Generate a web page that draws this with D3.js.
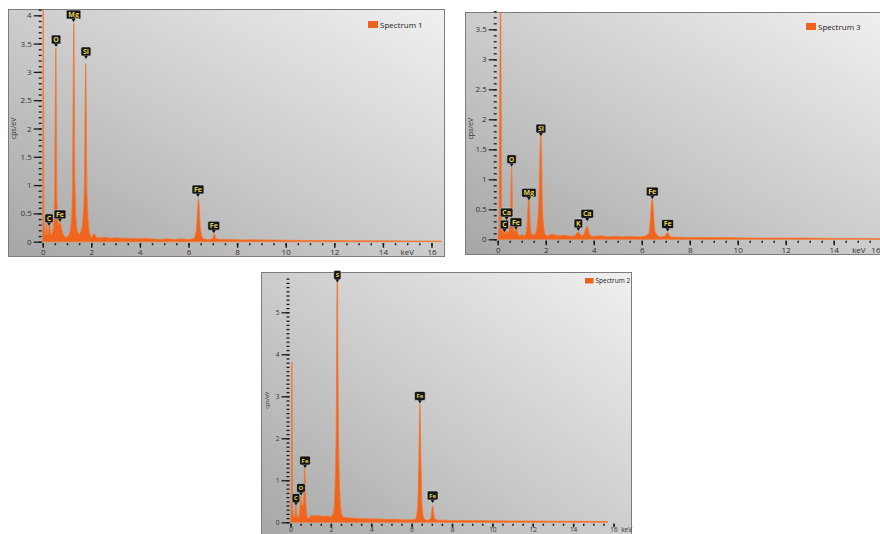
<!DOCTYPE html>
<html>
<head>
<meta charset="utf-8">
<script src="https://cdn.jsdelivr.net/npm/d3@7"></script>
<style>
  body { margin: 0; background: #fff; }
  svg { display: block; font-family: "Open Sans", "DejaVu Sans", sans-serif; }
</style>
</head>
<body>
<svg id="chart" width="880" height="534"></svg>
<script>
// ---- data: [keV, cps/eV] ----
var spectrum1 = [
    [0.00, 0.00], [0.02, 4.30], [0.06, 0.30], [0.10, 0.12], [0.16, 0.32], [0.21, 0.10],
    [0.28, 0.30], [0.34, 0.12], [0.42, 0.20], [0.49, 0.80], [0.54, 3.42], [0.59, 0.70],
    [0.65, 0.30], [0.72, 0.34], [0.78, 0.22], [0.86, 0.12], [0.95, 0.08], [1.05, 0.10],
    [1.15, 0.25], [1.23, 1.00], [1.28, 3.86], [1.33, 1.00], [1.41, 0.22], [1.50, 0.14],
    [1.60, 0.22], [1.71, 0.90], [1.77, 3.15], [1.83, 0.80], [1.92, 0.18], [2.00, 0.08],
    [2.12, 0.14], [2.22, 0.08], [2.40, 0.07], [2.60, 0.08], [2.80, 0.06], [3.00, 0.07],
    [3.30, 0.06], [3.60, 0.06], [3.90, 0.05], [4.20, 0.06], [4.50, 0.05], [4.80, 0.04],
    [5.10, 0.05], [5.40, 0.04], [5.70, 0.05], [6.00, 0.04], [6.20, 0.05], [6.32, 0.20],
    [6.41, 0.76], [6.50, 0.20], [6.62, 0.05], [6.80, 0.04], [6.98, 0.05], [7.06, 0.14],
    [7.14, 0.05], [7.40, 0.04], [7.80, 0.04], [8.20, 0.03], [8.60, 0.035], [9.00, 0.03],
    [9.50, 0.03], [10.00, 0.025], [11.00, 0.02], [12.00, 0.02], [13.00, 0.015],
    [14.00, 0.015], [15.00, 0.012], [16.00, 0.01], [16.40, 0.01], [16.40, 0.00]
];
var spectrum3 = [
    [0.00, 0.00], [0.05, 0.20], [0.12, 4.00], [0.17, 0.25], [0.22, 0.10], [0.28, 0.18],
    [0.33, 0.08], [0.38, 0.14], [0.45, 0.10], [0.53, 0.40], [0.58, 1.20], [0.63, 0.35],
    [0.70, 0.12], [0.76, 0.19], [0.83, 0.10], [0.92, 0.06], [1.02, 0.08], [1.12, 0.06],
    [1.20, 0.15], [1.30, 0.69], [1.38, 0.14], [1.48, 0.07], [1.58, 0.10], [1.70, 0.50],
    [1.80, 1.76], [1.88, 0.40], [1.98, 0.08], [2.10, 0.06], [2.25, 0.09], [2.40, 0.07],
    [2.60, 0.06], [2.80, 0.07], [3.00, 0.05], [3.20, 0.06], [3.36, 0.12], [3.48, 0.06],
    [3.60, 0.09], [3.72, 0.22], [3.84, 0.07], [4.00, 0.05], [4.30, 0.06], [4.60, 0.04],
    [4.90, 0.05], [5.20, 0.04], [5.50, 0.05], [5.80, 0.04], [6.10, 0.05], [6.30, 0.10],
    [6.44, 0.67], [6.56, 0.12], [6.75, 0.04], [6.95, 0.05], [7.08, 0.11], [7.20, 0.04],
    [7.60, 0.035], [8.00, 0.03], [9.00, 0.03], [10.00, 0.025], [11.00, 0.02],
    [12.00, 0.02], [13.00, 0.02], [14.00, 0.015], [15.00, 0.015], [16.00, 0.01],
    [16.50, 0.01], [16.50, 0.00]
];
var spectrum2 = [
    [0.00, 0.00], [0.03, 0.30], [0.07, 3.82], [0.11, 0.30], [0.17, 0.12], [0.22, 0.18],
    [0.27, 0.39], [0.32, 0.15], [0.40, 0.12], [0.47, 0.35], [0.52, 0.62], [0.57, 0.40],
    [0.63, 0.45], [0.71, 1.28], [0.77, 0.40], [0.84, 0.12], [0.92, 0.10], [1.05, 0.17],
    [1.20, 0.15], [1.40, 0.16], [1.60, 0.14], [1.80, 0.15], [2.00, 0.14], [2.12, 0.22],
    [2.20, 0.80], [2.27, 2.50], [2.32, 6.20], [2.37, 2.50], [2.44, 0.80], [2.52, 0.22],
    [2.65, 0.12], [2.85, 0.11], [3.10, 0.10], [3.40, 0.09], [3.70, 0.09], [4.00, 0.08],
    [4.40, 0.08], [4.80, 0.07], [5.20, 0.07], [5.60, 0.06], [6.00, 0.06], [6.20, 0.08],
    [6.30, 0.40], [6.36, 1.50], [6.41, 2.82], [6.46, 1.50], [6.52, 0.40], [6.62, 0.08],
    [6.80, 0.05], [6.95, 0.10], [7.04, 0.40], [7.13, 0.10], [7.30, 0.05], [7.70, 0.05],
    [8.20, 0.04], [9.00, 0.04], [10.00, 0.035], [11.00, 0.03], [12.00, 0.03],
    [13.00, 0.025], [14.00, 0.025], [15.00, 0.02], [15.70, 0.02], [15.70, 0.00]
];

// peak labels: element, keV, cps where the marker points
var labels1 = [
    {el: "C", kev: 0.26, cps: 0.28}, {el: "Fe", kev: 0.71, cps: 0.35},
    {el: "O", kev: 0.55, cps: 3.44}, {el: "Mg", kev: 1.27, cps: 3.88},
    {el: "Si", kev: 1.78, cps: 3.23}, {el: "Fe", kev: 6.39, cps: 0.79},
    {el: "Fe", kev: 7.04, cps: 0.15}
];
var labels3 = [
    {el: "C", kev: 0.28, cps: 0.12}, {el: "Ca", kev: 0.37, cps: 0.32},
    {el: "O", kev: 0.58, cps: 1.21}, {el: "Fe", kev: 0.76, cps: 0.16},
    {el: "Mg", kev: 1.30, cps: 0.65}, {el: "Si", kev: 1.80, cps: 1.72},
    {el: "K", kev: 3.36, cps: 0.14}, {el: "Ca", kev: 3.73, cps: 0.30},
    {el: "Fe", kev: 6.44, cps: 0.67}, {el: "Fe", kev: 7.08, cps: 0.13}
];
var labels2 = [
    {el: "C", kev: 0.27, cps: 0.40}, {el: "O", kev: 0.52, cps: 0.64},
    {el: "Fe", kev: 0.72, cps: 1.29}, {el: "S", kev: 2.32, cps: 5.71},
    {el: "Fe", kev: 6.41, cps: 2.83}, {el: "Fe", kev: 7.04, cps: 0.46}
];

var xTicks = [0, 2, 4, 6, 8, 10, 12, 14, 16];
var yTicks1 = [0, 0.5, 1, 1.5, 2, 2.5, 3, 3.5, 4];
var yTicks3 = [0, 0.5, 1, 1.5, 2, 2.5, 3, 3.5];
var yTicks2 = [0, 1, 2, 3, 4, 5];

// ---- layout ----
var panels = [
    {name: "Spectrum 1", data: spectrum1, labels: labels1, yTicks: yTicks1, yMinorTop: 4.1,
     frame: [8, 9, 436, 247], xRange: [42.7, 431.5], yDomain: [0, 4], yRange: [241.7, 15.3],
     keV: 15.0, legend: [368, 21], font: 8, boxFont: 7, boxH: 9, xTick: 4.5, xPad: 2},
    {name: "Spectrum 3", data: spectrum3, labels: labels3, yTicks: yTicks3, yMinorTop: 3.8,
     frame: [465, 12, 420, 242], xRange: [497.7, 881.7], yDomain: [0, 2], yRange: [239.3, 119.3],
     keV: 15.05, legend: [806, 23], font: 8, boxFont: 7, boxH: 9, xTick: 4.5, xPad: 2},
    {name: "Spectrum 2", data: spectrum2, labels: labels2, yTicks: yTicks2, yMinorTop: 5.85,
     frame: [261, 272, 370, 270], xRange: [290.5, 613.5], yDomain: [0, 5], yRange: [522.3, 312.3],
     keV: 16.65, legend: [585, 278], font: 6.5, boxFont: 6, boxH: 9, xTick: 3.5, xPad: 0.5}
];

var W = 880;
var svg = d3.select("#chart");
var defs = svg.append("defs");

var grad = defs.append("linearGradient")
    .attr("id", "bg")
    .attr("x1", 0).attr("y1", 1).attr("x2", 1).attr("y2", 0);
grad.append("stop").attr("offset", "0%").attr("stop-color", "#a6a6a6");
grad.append("stop").attr("offset", "45%").attr("stop-color", "#c9c9c9");
grad.append("stop").attr("offset", "100%").attr("stop-color", "#f0f0f0");

panels.forEach(function (p, i) {
    var f = p.frame;
    var x = d3.scaleLinear().domain([0, 16]).range(p.xRange);
    var y = d3.scaleLinear().domain(p.yDomain).range(p.yRange);
    var y0 = y(0);

    var g = svg.append("g").attr("class", "panel");

    defs.append("clipPath").attr("id", "clip" + i)
        .append("rect")
        .attr("x", f[0] + 1).attr("y", f[1] + 1)
        .attr("width", f[2] - 2).attr("height", f[3] - 2);

    g.append("rect")
        .attr("x", f[0] + 0.5).attr("y", f[1] + 0.5)
        .attr("width", f[2]).attr("height", f[3])
        .attr("fill", "url(#bg)")
        .attr("stroke", "#7c7c7c")
        .attr("stroke-width", 1);

    // spectrum
    var area = d3.area()
        .curve(d3.curveMonotoneX)
        .x(function (d) { return x(d[0]); })
        .y0(y0)
        .y1(function (d) { return y(d[1]); });

    g.append("path")
        .datum(p.data)
        .attr("clip-path", "url(#clip" + i + ")")
        .attr("d", area)
        .attr("fill", "#f0641e")
        .attr("stroke", "#f27a35")
        .attr("stroke-width", 0.8);

    // y axis: minor then major ticks
    var yMinor = d3.range(0, p.yMinorTop + 1e-6, 0.1);
    g.append("g")
        .attr("transform", "translate(" + (x(0) - 1) + ",0)")
        .call(d3.axisLeft(y).tickValues(yMinor).tickSize(3).tickFormat(""))
        .call(function (a) {
            a.select(".domain").remove();
            a.selectAll("line").attr("stroke", "#1a1a1a").attr("stroke-width", 1.3);
        });
    g.append("g")
        .attr("transform", "translate(" + (x(0) - 1) + ",0)")
        .call(d3.axisLeft(y).tickValues(p.yTicks).tickSize(8).tickPadding(2)
            .tickFormat(function (d) { return String(d); }))
        .call(function (a) {
            a.select(".domain").remove();
            a.selectAll("line").attr("stroke", "#1a1a1a").attr("stroke-width", 1.3);
            a.selectAll("text").attr("fill", "#333").style("font-size", p.font + "px")
                .style("font-family", "'Open Sans', sans-serif");
        });

    // x axis
    var xMinor = d3.range(0, 16.01, 0.5);
    g.append("g")
        .attr("transform", "translate(0," + (y0 + 1.5) + ")")
        .call(d3.axisBottom(x).tickValues(xMinor).tickSize(2).tickFormat(""))
        .call(function (a) {
            a.select(".domain").remove();
            a.selectAll("line").attr("stroke", "#1a1a1a").attr("stroke-width", 1.5);
        });
    g.append("g")
        .attr("transform", "translate(0," + (y0 + 1.5) + ")")
        .call(d3.axisBottom(x).tickValues(xTicks).tickSize(p.xTick).tickPadding(p.xPad)
            .tickFormat(function (d) { return String(d); }))
        .call(function (a) {
            a.select(".domain").remove();
            a.selectAll("line").attr("stroke", "#1a1a1a").attr("stroke-width", 1.5);
            a.selectAll("text").attr("fill", "#333").style("font-size", p.font + "px")
                .style("font-family", "'Open Sans', sans-serif")
                .each(function (d) {
                    // keep the last label inside the window
                    if (x(d) + 4 > W) {
                        d3.select(this).attr("text-anchor", "end").attr("x", W - x(d));
                    }
                });
        });

    // unit label, same line as the tick labels
    g.append("text")
        .attr("x", x(p.keV))
        .attr("y", y0 + 1.5 + p.xTick + p.xPad)
        .attr("dy", "0.71em")
        .attr("text-anchor", "middle")
        .attr("fill", "#333")
        .style("font-size", p.font + "px")
        .text("keV");

    // y label
    g.append("text")
        .attr("transform", "translate(" + (f[0] + 8) + "," + ((f[1] + y0) / 2 + 3) + ") rotate(-90)")
        .attr("text-anchor", "middle")
        .attr("fill", "#333")
        .style("font-size", (p.font - 1) + "px")
        .text("cps/eV");

    // peak labels
    var lab = g.selectAll(".lab")
        .data(p.labels)
        .enter().append("g")
        .attr("class", "lab")
        .attr("transform", function (d) {
            return "translate(" + x(d.kev) + "," + y(d.cps) + ")";
        });
    lab.each(function (d) {
        var n = d3.select(this);
        var t = n.append("text")
            .attr("x", 0)
            .attr("y", -3 - p.boxH / 2)
            .attr("dy", "0.35em")
            .attr("text-anchor", "middle")
            .attr("fill", "#e3d35a")
            .style("font-size", p.boxFont + "px")
            .style("font-weight", "bold")
            .text(d.el);
        var w = t.node().getComputedTextLength() + 4;
        n.insert("rect", "text")
            .attr("x", -w / 2).attr("y", -3 - p.boxH)
            .attr("width", w).attr("height", p.boxH)
            .attr("rx", 1.5)
            .attr("fill", "#161616")
            .attr("stroke", "#d8d8d8")
            .attr("stroke-width", 0.6);
        n.insert("path", "text")
            .attr("d", "M-2," + (-3.2) + "L2," + (-3.2) + "L0,0Z")
            .attr("fill", "#161616");
    });

    // legend
    g.append("rect")
        .attr("x", p.legend[0]).attr("y", p.legend[1])
        .attr("width", p.font + 2).attr("height", p.font - 1)
        .attr("fill", "#f0601e");
    g.append("text")
        .attr("x", p.legend[0] + p.font + 4)
        .attr("y", p.legend[1] + p.font - 1.5)
        .attr("fill", "#222")
        .style("font-size", p.font + "px")
        .text(p.name);
});
</script>
</body>
</html>
